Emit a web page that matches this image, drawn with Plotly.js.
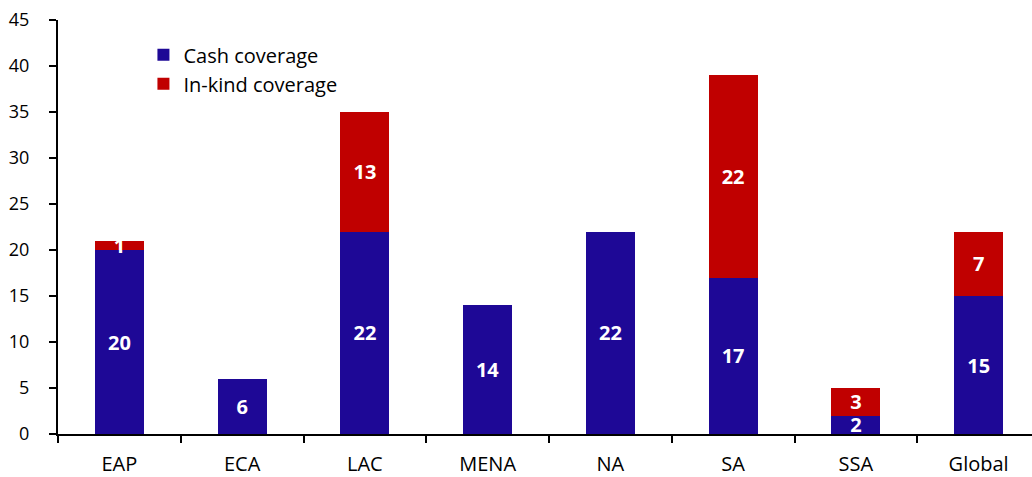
<!DOCTYPE html>
<html><head><meta charset="utf-8">
<script src="https://cdn.plot.ly/plotly-3.0.1.min.js"></script>
<style>html,body{margin:0;padding:0;overflow:hidden;background:#fff}#chart{width:1040px;height:477px}</style>
</head><body><div id="chart"></div>
<script>
const categories = ["EAP","ECA","LAC","MENA","NA","SA","SSA","Global"];
const cashValues = [20,6,22,14,22,17,2,15];
const inKindValues = [1,0,13,0,0,22,3,7];
const yTicks = [0,5,10,15,20,25,30,35,40,45];

const font = "'Open Sans', sans-serif";
const labelFont = {color:"#fff", size:20, family:font, weight:"bold"};
const traces = [
  {type:"bar", name:"Cash coverage", x:categories, y:cashValues,
   marker:{color:"#1E0896"}, text:cashValues.map(String), textposition:"inside",
   insidetextanchor:"middle", constraintext:"none", textangle:0,
   textfont:labelFont, hoverinfo:"none"},
  {type:"bar", name:"In-kind coverage", x:categories, y:inKindValues,
   marker:{color:"#C00000"}, text:inKindValues.map(v=>v?String(v):""), textposition:"inside",
   insidetextanchor:"middle", constraintext:"none", textangle:0,
   textfont:labelFont, hoverinfo:"none"}
];
const layout = {
  width:1040, height:477, barmode:"stack", bargap:0.6,
  margin:{l:58, r:0, t:20, b:43},
  paper_bgcolor:"#fff", plot_bgcolor:"#fff",
  font:{family:font, size:18, color:"#000"},
  showlegend:true,
  legend:{x:0.087, y:0.963, xanchor:"left", yanchor:"top", traceorder:"normal",
          bgcolor:"rgba(0,0,0,0)", font:{size:20, family:font}},
  xaxis:{type:"category", showline:true, linecolor:"#000", linewidth:2,
         ticks:"outside", tickson:"boundaries", ticklen:7, tickwidth:2, tickcolor:"#000",
         ticklabelstandoff:11,
         showgrid:false, zeroline:false, tickfont:{size:20}},
  yaxis:{range:[0,45], tickvals:yTicks, ticktext:yTicks.map(String), showline:true,
         linecolor:"#000", linewidth:2, ticks:"outside", ticklen:7, tickwidth:2,
         tickcolor:"#000", ticklabelstandoff:16, showgrid:false, zeroline:false, tickfont:{size:18}}
};
Plotly.newPlot("chart", traces, layout, {staticPlot:true});
</script></body></html>
